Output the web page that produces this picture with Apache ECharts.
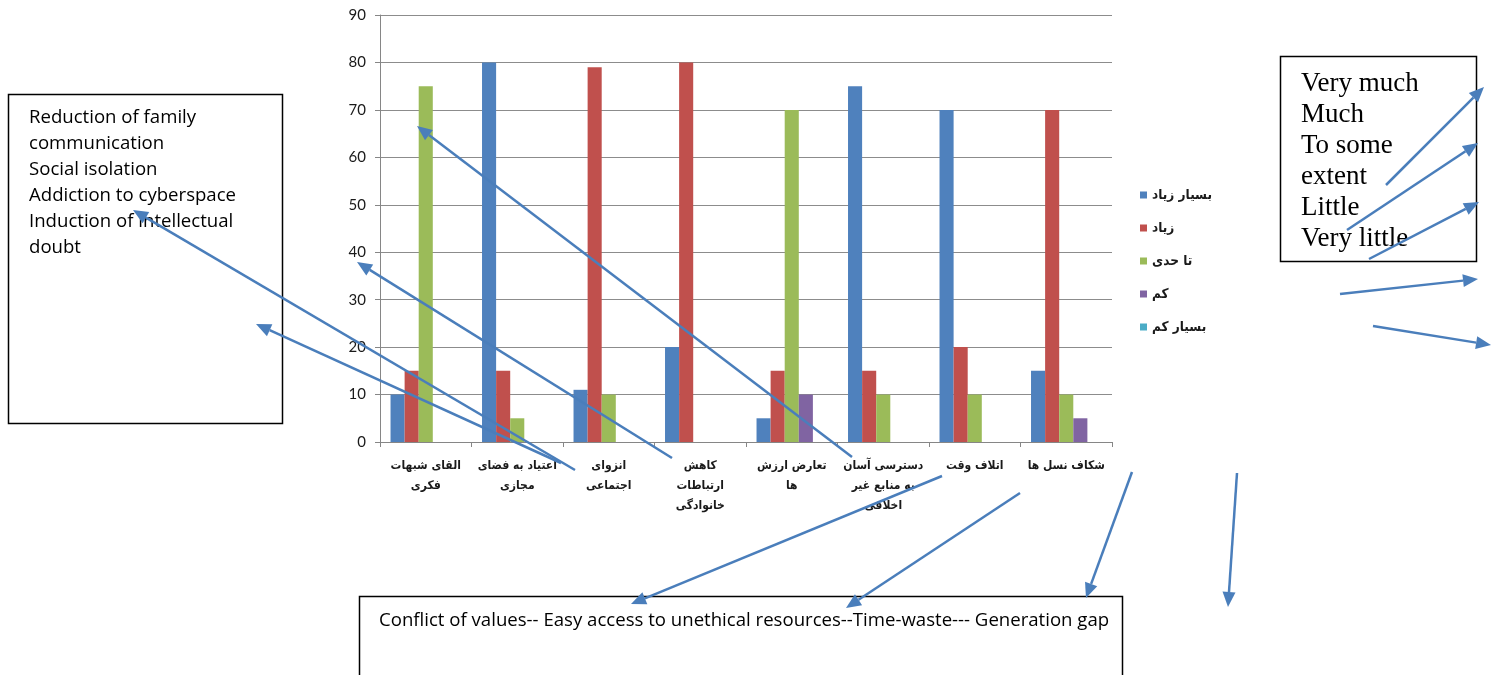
<!DOCTYPE html>
<html>
<head>
<meta charset="utf-8">
<script src="https://cdn.jsdelivr.net/npm/echarts@6/dist/echarts.min.js"></script>
<style>
  html, body { margin: 0; padding: 0; background: #ffffff; }
  #chart { width: 1499px; height: 675px; }
</style>
</head>
<body>
<div id="chart"></div>
<script>
// Harms of cyberspace, by level of agreement (percent)
const categories = [
  'القای شبهات\nفکری',
  'اعتیاد به فضای\nمجازی',
  'انزوای\nاجتماعی',
  'کاهش\nارتباطات\nخانوادگی',
  'تعارض ارزش\nها',
  'دسترسی آسان\nبه منابع غیر\nاخلاقی',
  'اتلاف وقت',
  'شکاف نسل ها'
];
const seriesNames = ['بسیار زیاد', 'زیاد', 'تا حدی', 'کم', 'بسیار کم'];
const veryMuch     = [10, 80, 11, 20, 5, 75, 70, 15];
const much         = [15, 15, 79, 80, 15, 15, 20, 70];
const toSomeExtent = [75, 5, 10, 0, 70, 10, 10, 10];
const little       = [0, 0, 0, 0, 10, 0, 0, 5];
const veryLittle   = [0, 0, 0, 0, 0, 0, 0, 0];
const yMin = 0, yMax = 90, yStep = 10;

const leftNotes = ['Reduction of family', 'communication', 'Social isolation',
  'Addiction to cyberspace', 'Induction of intellectual', 'doubt'];
const rightNotes = ['Very much', 'Much', 'To some', 'extent', 'Little', 'Very little'];
const bottomNote = 'Conflict of values-- Easy access to unethical resources--Time-waste--- Generation gap';

const palette = ['#4F81BD', '#C0504D', '#9BBB59', '#8064A2', '#4BACC6'];
const values = [veryMuch, much, toSomeExtent, little, veryLittle];
const arrowColor = '#4A7EBB';
const arabicFont = '"DejaVu Sans Condensed", "DejaVu Sans", sans-serif';

// connector line with a filled triangular head at (x2, y2)
function arrow(x1, y1, x2, y2) {
  const ang = Math.atan2(y2 - y1, x2 - x1);
  const len = 15, half = 6.5;
  const bx = x2 - len * Math.cos(ang), by = y2 - len * Math.sin(ang);
  const px = -Math.sin(ang) * half, py = Math.cos(ang) * half;
  return [
    { type: 'line', z: 100, shape: { x1: x1, y1: y1, x2: bx, y2: by },
      style: { stroke: arrowColor, lineWidth: 2.5 } },
    { type: 'polygon', z: 100,
      shape: { points: [[x2, y2], [bx + px, by + py], [bx - px, by - py]] },
      style: { fill: arrowColor } }
  ];
}

const arrows = [
  [575, 470, 133, 210],
  [561, 463, 256, 324],
  [672, 458, 357, 262],
  [852, 457, 417, 126],
  [942, 476, 631, 604],
  [1020, 493, 846, 608],
  [1132, 472, 1086, 598],
  [1237, 473, 1228, 607],
  [1386, 185, 1484, 87],
  [1347, 230, 1478, 143],
  [1369, 259, 1479, 202],
  [1340, 294, 1478, 279],
  [1373, 326, 1491, 345]
];

const graphics = [
  { type: 'rect', z: 90, shape: { x: 8.5, y: 94.5, width: 274, height: 329 },
    style: { fill: '#ffffff', stroke: '#000000', lineWidth: 1.5 } },
  { type: 'text', z: 91, x: 29, y: 105,
    style: { text: leftNotes.join('\n'), font: '18.6px "Open Sans", sans-serif',
      lineHeight: 26, fill: '#000000' } },
  { type: 'rect', z: 90, shape: { x: 1280.5, y: 56.5, width: 196, height: 205 },
    style: { fill: '#ffffff', stroke: '#000000', lineWidth: 1.5 } },
  { type: 'text', z: 91, x: 1301, y: 68,
    style: { text: rightNotes.join('\n'), font: '27px "Liberation Serif", serif',
      lineHeight: 31, fill: '#000000' } },
  { type: 'rect', z: 90, shape: { x: 359.5, y: 596.5, width: 763, height: 120 },
    style: { fill: '#ffffff', stroke: '#000000', lineWidth: 1.5 } },
  { type: 'text', z: 91, x: 379, y: 611,
    style: { text: bottomNote, font: '18.6px "Open Sans", sans-serif', fill: '#000000' } }
];
arrows.forEach(a => graphics.push(...arrow(a[0], a[1], a[2], a[3])));

const chart = echarts.init(document.getElementById('chart'), null, { renderer: 'canvas' });
chart.setOption({
  animation: false,
  backgroundColor: '#ffffff',
  color: palette,
  grid: { left: 380, right: 387, top: 15, bottom: 233, containLabel: false },
  legend: {
    orient: 'vertical', left: 1135, top: 182,
    icon: 'rect', itemWidth: 7, itemHeight: 7, itemGap: 17,
    textStyle: { fontFamily: arabicFont, fontSize: 13.5, fontWeight: 'bold',
      color: '#1a1a1a', lineHeight: 16 },
    data: seriesNames
  },
  xAxis: {
    type: 'category', data: categories,
    axisLine: { lineStyle: { color: '#868686' } },
    axisTick: { show: true, length: 5, lineStyle: { color: '#868686' } },
    axisLabel: {
      interval: 0, margin: 14, color: '#1a1a1a',
      fontFamily: arabicFont, fontSize: 12, fontWeight: 'bold', lineHeight: 20
    }
  },
  yAxis: {
    type: 'value', min: yMin, max: yMax, interval: yStep,
    axisLine: { show: true, lineStyle: { color: '#868686' } },
    axisTick: { show: true, length: 5, lineStyle: { color: '#868686' } },
    axisLabel: { margin: 14, color: '#1a1a1a', fontFamily: 'Lato, sans-serif', fontSize: 15 },
    splitLine: { lineStyle: { color: '#8c8c8c', width: 1 } }
  },
  series: seriesNames.map((name, i) => ({
    name: name, type: 'bar', data: values[i],
    barGap: '0%', barCategoryGap: '23%',
    itemStyle: { color: palette[i] }
  })),
  graphic: graphics
});
</script>
</body>
</html>
